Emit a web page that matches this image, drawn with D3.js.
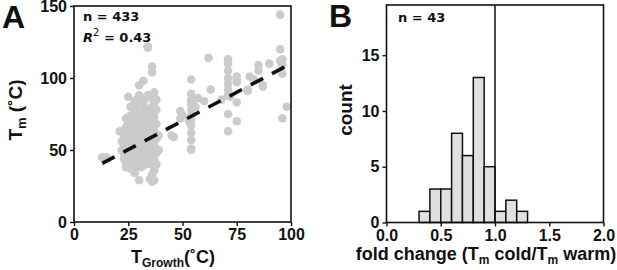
<!DOCTYPE html>
<html><head><meta charset="utf-8">
<script src="https://cdn.jsdelivr.net/npm/d3@7"></script>
<style>
html,body{margin:0;padding:0;background:#fff;}
svg{display:block;}
text{font-family:"Liberation Sans",Arial,sans-serif;font-weight:bold;fill:#111;}
text.ann{font-family:"DejaVu Sans",Verdana,sans-serif;}
</style></head>
<body>
<svg id="chart" width="617" height="270"></svg>
<script>
// ---------- Panel A data: [T_growth (°C), Tm (°C)] ----------
const scatterPoints = [
 [13,45],[15,45],[21,63],
 [23,44],[24,41],[25,39],[26,43],[27,40],[28,44],[29,41],[30,45],[31,42],[32,44],[33,40],[25,46],[28,38],[31,38],
 [22,50],[23,48],[24,52],[25,49],[26,51],[27,47],[28,50],[29,48],[30,52],[31,49],[32,51],[33,47],[34,50],[26,46],[29,52],
 [22,56],[23,54],[24,57],[25,55],[26,58],[27,54],[28,56],[29,57],[30,55],[31,58],[32,54],[33,57],[34,55],[25,53],[28,53],
 [23,60],[24,63],[25,61],[26,59],[27,62],[28,60],[29,63],[30,61],[31,59],[32,62],[33,64],[34,61],
 [24,66],[25,69],[26,67],[27,65],[28,68],[29,70],[30,66],[31,68],[32,66],[33,70],[34,67],
 [24,72],[26,74],[27,71],[28,77],[29,73],[30,75],[31,72],[32,77],[33,74],[34,78],
 [25,87],[26,80],[28,84],[29,81],[30,88],[31,85],[32,82],[30,95],[29,85],[33,86],[34,88],
 [32,98],[34,121],[34,122],[28,34],[30,29],[24,38],[26,37],
 [35,30],[36,28],[37,29],[36,33],[37,36],[36,40],[37,43],[36,46],[38,48],[36,50],[37,53],[36,56],[38,58],[36,60],
 [37,63],[36,66],[38,68],[36,70],[37,73],[36,76],[38,78],[36,80],[37,83],[36,86],[35,88],[37,90],[36,104],[36,108],
 [35,45],[35,55],[35,65],[35,75],[38,40],[38,85],[39,60],[39,50],
 [45,60],[46,59],[49,77],[50,74],[49,72],
 [54,99],[54,89],[54,85],[54,82],[54,78],[54,74],[54,71],[54,67],[54,62],[54,57],[54,51],[54,50],[53,70],
 [57,86],[56,80],[60,84],[62,114],[63,92],[68,85],
 [71,113],[71,110],[71,105],[71,96],[71,92],[71,88],[71,75],[71,63],[72,87],[71,100],
 [75,101],[75,97],[75,83],[75,70],[75,99],
 [80,92],[81,101],[80,91],[83,99],
 [85,109],[85,105],[87,94],[87,95],[90,110],
 [95,144],[95,120],[95,112],[96,113],[96,109],[96,103],[98,80],[96,72]
];
const fitIntercept = 30.4, fitSlope = 0.796, fitRange = [13, 98];
const xTicksA = [0,25,50,75,100], yTicksA = [0,50,100,150];

// ---------- Panel B data ----------
const binStart = [0.3,0.4,0.5,0.6,0.7,0.8,0.9,1.0,1.1,1.2];
const binCount = [1,3,3,8,6,13,5,1,2,1];
const binWidth = 0.1;
const xTicksB = [0,0.5,1,1.5,2], yTicksB = [0,5,10,15];

const svg = d3.select("#chart");

function styleAxis(a){
  a.select(".domain").remove();
  a.selectAll("line").attr("stroke","#111").attr("stroke-width",1.4);
  a.selectAll("text").attr("font-size",16).attr("fill","#111");
}

// ================= Panel A =================
const xA = d3.scaleLinear().domain([0,100]).range([74,291]);
const yA = d3.scaleLinear().domain([0,150]).range([222,6]);
const gA = svg.append("g");

gA.selectAll("circle").data(scatterPoints).join("circle")
  .attr("cx",d=>xA(d[0])).attr("cy",d=>yA(d[1])).attr("r",4.3).attr("fill","#cbcbcb");

gA.append("line")
  .attr("x1",xA(fitRange[0])).attr("y1",yA(fitIntercept+fitSlope*fitRange[0]))
  .attr("x2",xA(fitRange[1])).attr("y2",yA(fitIntercept+fitSlope*fitRange[1]))
  .attr("stroke","#111").attr("stroke-width",3.6).attr("stroke-dasharray","14,10");

gA.append("rect").attr("x",xA(0)).attr("y",yA(150)).attr("width",xA(100)-xA(0)).attr("height",yA(0)-yA(150))
  .attr("fill","none").attr("stroke","#111").attr("stroke-width",1.6);

styleAxis(gA.append("g").attr("transform",`translate(0,${yA(0)})`)
  .call(d3.axisBottom(xA).tickValues(xTicksA).tickSize(4).tickPadding(3)));
styleAxis(gA.append("g").attr("transform",`translate(${xA(0)},0)`)
  .call(d3.axisLeft(yA).tickValues(yTicksA).tickSize(4).tickPadding(3)));

gA.append("text").attr("x",2).attr("y",28).attr("font-size",32).text("A");
gA.append("text").attr("class","ann").attr("x",83).attr("y",21).attr("font-size",13).text("n = 433");
const r2 = gA.append("text").attr("class","ann").attr("x",83).attr("y",42).attr("font-size",13);
r2.append("tspan").attr("font-style","italic").text("R");
r2.append("tspan").attr("dy",-6).attr("font-size",10).style("font-weight","normal").text("2");
r2.append("tspan").attr("dy",6).text(" = 0.43");

const xlabA = gA.append("text").attr("x",173).attr("y",263).attr("text-anchor","middle").attr("font-size",18);
xlabA.append("tspan").text("T");
xlabA.append("tspan").attr("dy",4).attr("font-size",12).text("Growth");
xlabA.append("tspan").attr("dy",-4).text("(˚C)");

const ylabA = gA.append("text").attr("transform","translate(22,110) rotate(-90)").attr("text-anchor","middle").attr("font-size",19);
ylabA.append("tspan").text("T");
ylabA.append("tspan").attr("dy",4).attr("font-size",13).text("m");
ylabA.append("tspan").attr("dy",-4).text(" (˚C)");

// ================= Panel B =================
const xB = d3.scaleLinear().domain([0,2]).range([386.5,603.5]);
const yB = d3.scaleLinear().domain([0,19.5]).range([222.5,5]);
const gB = svg.append("g");

gB.selectAll("rect.bar").data(binStart.map((s,i)=>[s,binCount[i]])).join("rect").attr("class","bar")
  .attr("x",d=>xB(d[0])).attr("width",d=>xB(d[0]+binWidth)-xB(d[0]))
  .attr("y",d=>yB(d[1])).attr("height",d=>yB(0)-yB(d[1]))
  .attr("fill","#e0e0e0").attr("stroke","#111").attr("stroke-width",1.5);

gB.append("line").attr("x1",xB(1)).attr("x2",xB(1)).attr("y1",yB(0)).attr("y2",yB(19.5))
  .attr("stroke","#111").attr("stroke-width",1.5);

gB.append("rect").attr("x",xB(0)).attr("y",yB(19.5)).attr("width",xB(2)-xB(0)).attr("height",yB(0)-yB(19.5))
  .attr("fill","none").attr("stroke","#111").attr("stroke-width",1.6);

styleAxis(gB.append("g").attr("transform",`translate(0,${yB(0)})`)
  .call(d3.axisBottom(xB).tickValues(xTicksB).tickFormat(d3.format(".1f")).tickSize(4).tickPadding(3)));
styleAxis(gB.append("g").attr("transform",`translate(${xB(0)},0)`)
  .call(d3.axisLeft(yB).tickValues(yTicksB).tickSize(4).tickPadding(3)));

gB.append("text").attr("x",329).attr("y",27).attr("font-size",32).text("B");
gB.append("text").attr("class","ann").attr("x",398).attr("y",22).attr("font-size",13).text("n = 43");

const xlabB = gB.append("text").attr("x",486).attr("y",260).attr("text-anchor","middle").attr("font-size",18);
xlabB.append("tspan").text("fold change (T");
xlabB.append("tspan").attr("dy",4).attr("font-size",12).text("m");
xlabB.append("tspan").attr("dy",-4).text(" cold/T");
xlabB.append("tspan").attr("dy",4).attr("font-size",12).text("m");
xlabB.append("tspan").attr("dy",-4).text(" warm)");

gB.append("text").attr("transform","translate(352,110) rotate(-90)").attr("text-anchor","middle").attr("font-size",19).text("count");
</script>
</body></html>
